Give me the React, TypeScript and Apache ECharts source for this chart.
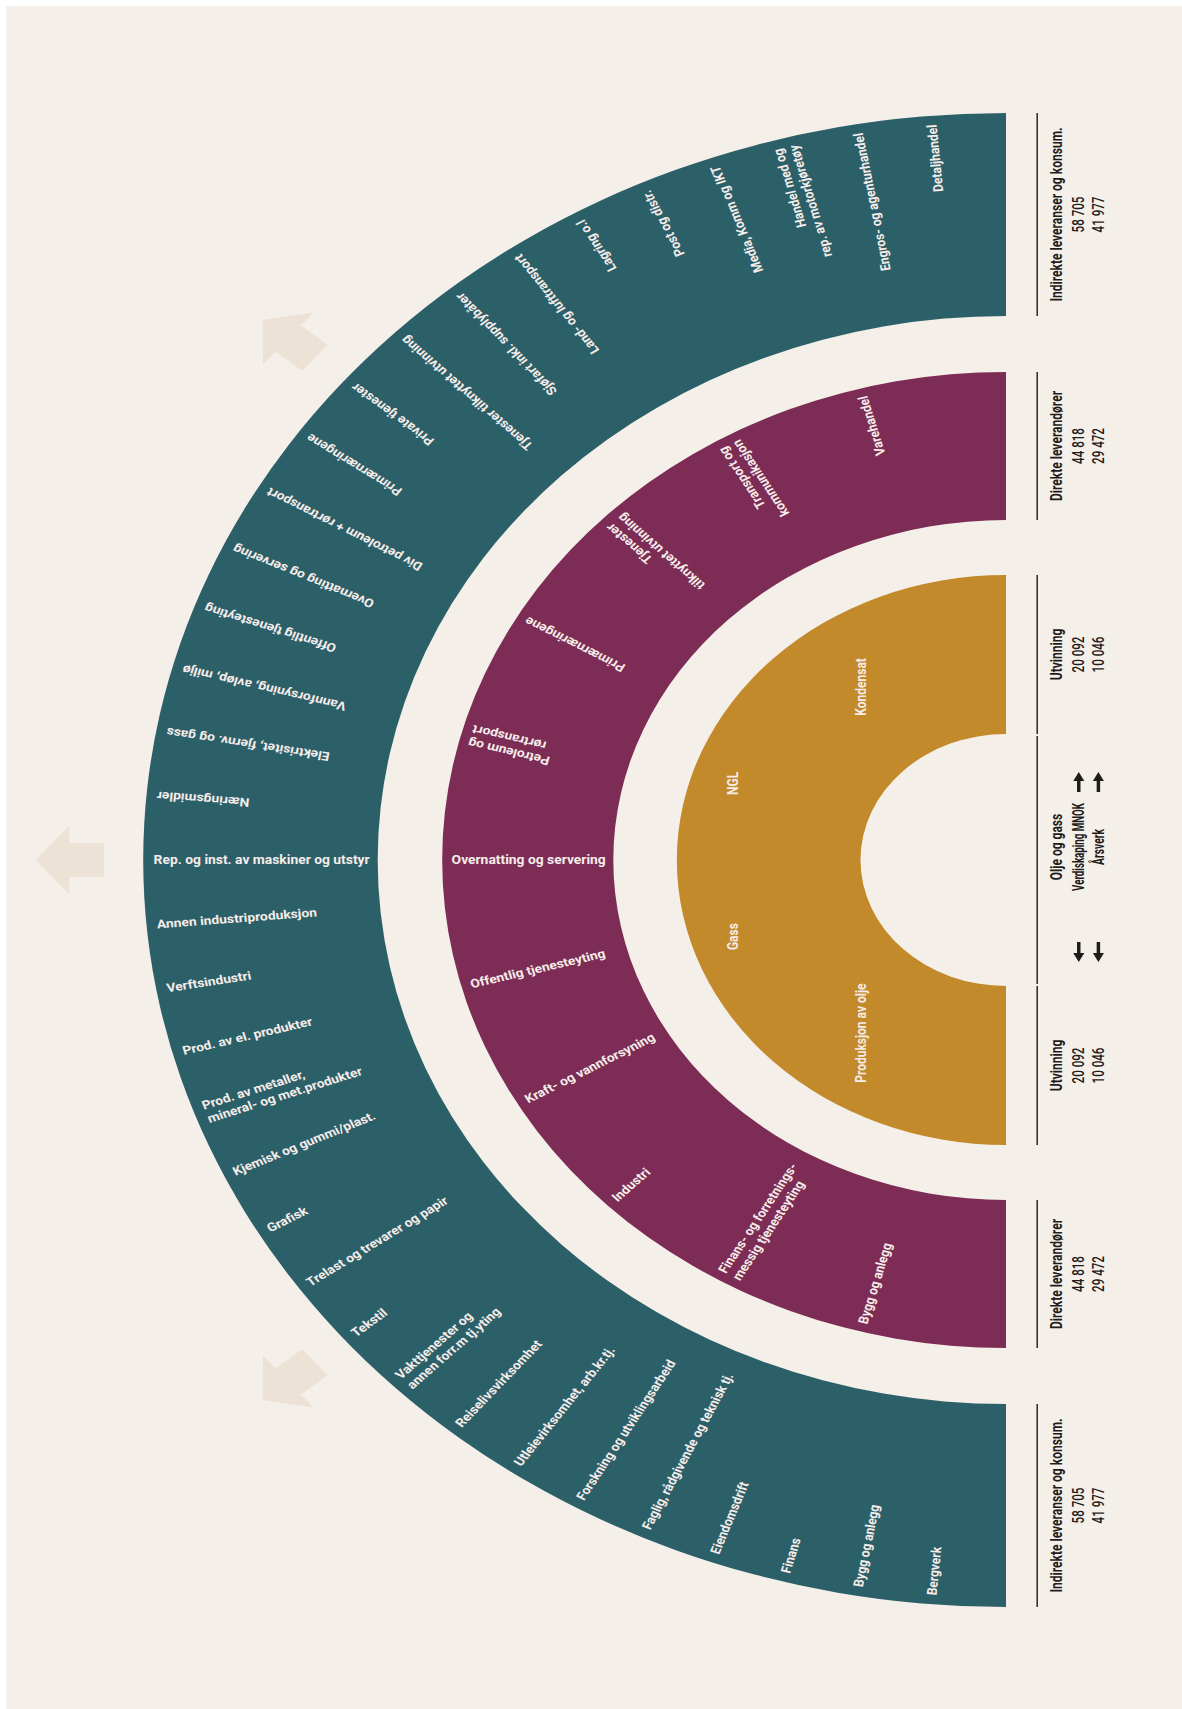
import React, { useEffect, useRef } from "react";
import * as echarts from "echarts";

// ---------- data ----------
// Ring labels, listed from the bottom end of the half circle to the top end
const outerLabels = [
  "Bergverk",
  "Bygg og anlegg",
  "Finans",
  "Eiendomsdrift",
  "Faglig, rådgivende og teknisk tj.",
  "Forskning og utviklingsarbeid",
  "Utleievirksomhet, arb.kr.tj.",
  "Reiselivsvirksomhet",
  "Vakttjenester og\nannen forr.m tj.yting",
  "Tekstil",
  "Trelast og trevarer og papir",
  "Grafisk",
  "Kjemisk og gummi/plast.",
  "Prod. av metaller,\nmineral- og met.produkter",
  "Prod. av el. produkter",
  "Verftsindustri",
  "Annen industriproduksjon",
  "Rep. og inst. av maskiner og utstyr",
  "Næringsmidler",
  "Elektrisitet, fjernv. og gass",
  "Vannforsyning, avløp, miljø",
  "Offentlig tjenesteyting",
  "Overnatting og servering",
  "Div petroleum + rørtransport",
  "Primærnæringene",
  "Private tjenester",
  "Tjenester tilknyttet utvinning",
  "Sjøfart inkl. supplybåter",
  "Land- og lufttransport",
  "Lagring o.l",
  "Post og distr.",
  "Media, Komm og IKT",
  "Handel med og\nrep. av motorkjøretøy",
  "Engros- og agenturhandel",
  "Detaljhandel",
];

const middleLabels = [
  "Bygg og anlegg",
  "Finans- og forretnings-\nmessig tjenesteyting",
  "Industri",
  "Kraft- og vannforsyning",
  "Offentlig tjenesteyting",
  "Overnatting og servering",
  "Petroleum og\nrørtransport",
  "Primærnæringene",
  "Tjenester\ntilknyttet utvinning",
  "Transport og\nkommunikasjon",
  "Varehandel",
];

const innerLabels = ["Produksjon av olje", "Gass", "NGL", "Kondensat"];

// outer ring -> inner ring
const ringNames = ["Indirekte leveranser og konsum.", "Direkte leverandører", "Utvinning"];
const verdiskapingMNOK = [58705, 44818, 20092];
const aarsverk = [41977, 29472, 10046];

const centerTitle = "Olje og gass";
const centerRows = ["Verdiskaping MNOK", "Årsverk"];

// ---------- layout / style ----------
const CX = 1006;
const CY = 860;
const SX = 1.155; // horizontal stretch of the whole figure
const RINGS = [
  { r0: 544, r: 747, color: "#2c6069", labelR: [738] },
  { r0: 340, r: 488, color: "#7c2c55", labelR: [480] },
  { r0: 126, r: 285, color: "#c38a2b", labelR: [214, 248, 248, 214] },
];
const BG = "#f5efe9";
const ARROW_BG = "#ece2d6";
const LABEL_FILL = "#f6ece9";
const DARK = "#1f1c1c";
const FONT = "Roboto, 'Liberation Sans', sans-serif";

const fmt = (n: number) => String(n).replace(/\B(?=(\d{3})+(?!\d))/g, " ");

type LabelItem = { ring: number; i: number; n: number; text: string };
const LABEL_ITEMS: LabelItem[] = [
  ...outerLabels.map((t, i) => ({ ring: 0, i, n: outerLabels.length, text: t })),
  ...middleLabels.map((t, i) => ({ ring: 1, i, n: middleLabels.length, text: t })),
  ...innerLabels.map((t, i) => ({ ring: 2, i, n: innerLabels.length, text: t })),
];

function stretched(children: any[]) {
  return { type: "group", x: CX, y: CY, scaleX: SX, children };
}

function renderRing(params: any) {
  const ring = RINGS[params.dataIndex];
  return stretched([
    {
      type: "sector",
      shape: {
        cx: 0,
        cy: 0,
        r0: ring.r0,
        r: ring.r,
        startAngle: Math.PI / 2,
        endAngle: (Math.PI * 3) / 2,
        clockwise: true,
      },
      style: { fill: ring.color },
    },
  ]);
}

function renderLabel(params: any) {
  const it = LABEL_ITEMS[params.dataIndex];
  const ring = RINGS[it.ring];
  const psi = (Math.PI * (it.i + 1)) / (it.n + 1); // from bottom end
  const phi = Math.PI - psi; // from top end
  const lr = ring.labelR[Math.min(it.i, ring.labelR.length - 1)];
  const x = -lr * Math.sin(phi);
  const y = -lr * Math.cos(phi);
  let rotation: number;
  let align: string;
  if (it.ring === 2) {
    rotation = Math.PI / 2;
    align = "center";
  } else if (phi >= Math.PI / 2 - 1e-6) {
    rotation = phi - Math.PI / 2;
    align = "left";
  } else {
    rotation = phi + Math.PI / 2;
    align = "right";
  }
  return stretched([
    {
      type: "text",
      x,
      y,
      rotation,
      style: {
        text: it.text,
        fill: LABEL_FILL,
        fontFamily: FONT,
        fontWeight: "bold",
        fontSize: 12,
        lineHeight: 14,
        align,
        verticalAlign: "middle",
      },
    },
  ]);
}

const COL_X = 63; // centre of the text column (middle line)
const LINE_X = 27;

function colText(text: string, x: number, y: number, size: number, weight: any, squeeze: number) {
  return {
    type: "text",
    x,
    y,
    rotation: Math.PI / 2,
    scaleX: squeeze,
    style: {
      text,
      fill: DARK,
      fontFamily: FONT,
      fontWeight: weight,
      fontSize: size,
      align: "center",
      verticalAlign: "middle",
    },
  };
}

function block(title: string, a: string, b: string, y: number, centre: boolean) {
  return [
    colText(title, COL_X - 19, y, 14, "bold", 0.86),
    colText(a, COL_X, y, centre ? 13.5 : 13.5, centre ? "bold" : 500, centre ? 0.72 : 0.86),
    colText(b, COL_X + 17, y, centre ? 13.5 : 13.5, centre ? "bold" : 500, centre ? 0.76 : 0.86),
  ];
}

function vline(y1: number, y2: number) {
  return {
    type: "line",
    shape: { x1: LINE_X, y1, x2: LINE_X, y2 },
    style: { stroke: "#2a2727", lineWidth: 1.3 },
  };
}

function renderColumn(params: any) {
  const i = params.dataIndex;
  const ring = RINGS[i];
  const mid = (ring.r + ring.r0) / 2;
  const children: any[] = [
    vline(-ring.r, -ring.r0),
    vline(ring.r0, ring.r),
    ...block(ringNames[i], fmt(verdiskapingMNOK[i]), fmt(aarsverk[i]), -mid, false),
    ...block(ringNames[i], fmt(verdiskapingMNOK[i]), fmt(aarsverk[i]), mid, false),
  ];
  if (i === RINGS.length - 1) {
    // centre block
    children.push(vline(-ring.r0 + 2, ring.r0 - 2));
    children.push(...block(centerTitle, centerRows[0], centerRows[1], -13, true));
    const arrow = (x: number, dir: number, y0: number) => ({
      type: "polygon",
      shape: {
        points: [
          [x - 1.5, y0],
          [x - 1.5, y0 + dir * 11],
          [x - 4.8, y0 + dir * 11],
          [x, y0 + dir * 20],
          [x + 4.8, y0 + dir * 11],
          [x + 1.5, y0 + dir * 11],
          [x + 1.5, y0],
        ],
      },
      style: { fill: DARK },
    });
    [COL_X, COL_X + 17].forEach((x) => {
      children.push(arrow(x, -1, -68));
      children.push(arrow(x, 1, 82));
    });
  }
  return stretched(children);
}

// decorative background arrows (angle from top end, degrees)
const bgArrowAngles = [50, 90, 130];

function bgArrows() {
  return bgArrowAngles.map((deg) => {
    const phi = (deg * Math.PI) / 180;
    return {
      type: "group",
      rotation: phi + Math.PI / 2,
      children: [
        {
          type: "polygon",
          shape: {
            points: [
              [781, -17],
              [811, -17],
              [811, -34],
              [840, 0],
              [811, 34],
              [811, 17],
              [781, 17],
            ],
          },
          style: { fill: ARROW_BG },
        },
      ],
    };
  });
}

export default function App() {
  const ref = useRef<HTMLDivElement>(null);
  useEffect(() => {
    document.body.style.margin = "0";
    document.body.style.background = "#ffffff";
    const chart = echarts.init(ref.current!, null, { renderer: "svg" });
    const option: any = {
      animation: false,
      backgroundColor: "#ffffff",
      graphic: [
        {
          type: "rect",
          z: -10,
          shape: { x: 6, y: 6, width: 1176, height: 1703 },
          style: { fill: BG },
          silent: true,
        },
        {
          type: "group",
          x: CX,
          y: CY,
          scaleX: SX,
          z: -5,
          silent: true,
          children: bgArrows(),
        },
      ],
      series: [
        {
          type: "custom",
          name: "ringer",
          coordinateSystem: "none",
          silent: true,
          z: 1,
          data: ringNames.map((n, i) => ({ name: n, value: [i] })),
          renderItem: renderRing,
        },
        {
          type: "custom",
          name: "etiketter",
          coordinateSystem: "none",
          silent: true,
          z: 3,
          data: LABEL_ITEMS.map((it, i) => ({ name: it.text, value: [i] })),
          renderItem: renderLabel,
        },
        {
          type: "custom",
          name: "kolonner",
          coordinateSystem: "none",
          silent: true,
          z: 2,
          data: ringNames.map((n, i) => ({ name: n, value: [verdiskapingMNOK[i], aarsverk[i]] })),
          renderItem: renderColumn,
        },
      ],
    };
    chart.setOption(option);
    return () => chart.dispose();
  }, []);
  return <div ref={ref} style={{ width: 1182, height: 1709 }} />;
}
